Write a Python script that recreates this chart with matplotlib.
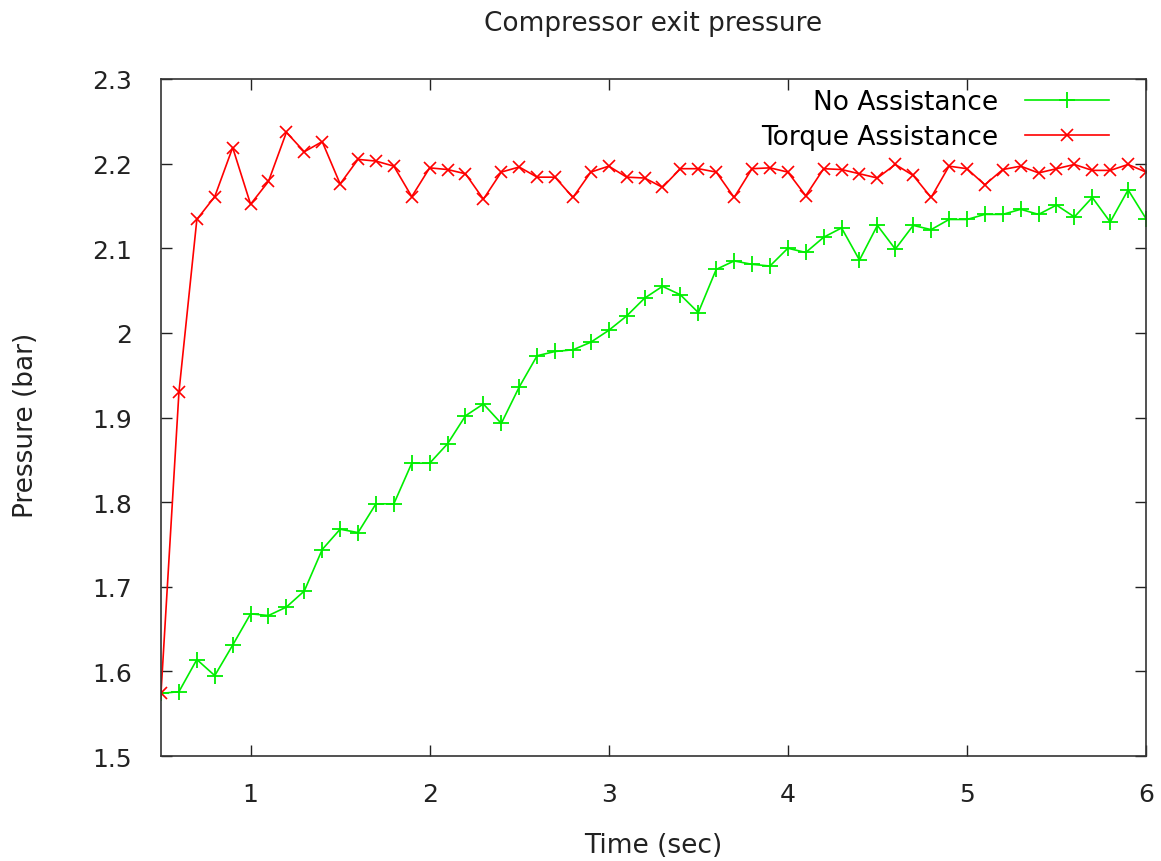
import matplotlib
matplotlib.use("Agg")
import matplotlib.pyplot as plt
import numpy as np
from matplotlib.ticker import FormatStrFormatter

# time axis, one sample every 0.1 s from 0.5 to 6.0
time = np.round(np.arange(0.5, 6.0001, 0.1), 1)

no_assist = [1.574, 1.576, 1.614, 1.595, 1.631, 1.668, 1.666, 1.676, 1.695, 1.744,
             1.768, 1.764, 1.798, 1.798, 1.846, 1.846, 1.869, 1.902, 1.916, 1.893,
             1.936, 1.973, 1.978, 1.980, 1.989, 2.003, 2.020, 2.041, 2.055, 2.045,
             2.024, 2.075, 2.085, 2.081, 2.079, 2.100, 2.095, 2.113, 2.124, 2.086,
             2.127, 2.099, 2.127, 2.122, 2.134, 2.134, 2.140, 2.140, 2.146, 2.140,
             2.151, 2.137, 2.160, 2.131, 2.169, 2.135]

torque_assist = [1.575, 1.930, 2.134, 2.161, 2.219, 2.152, 2.179, 2.237, 2.214, 2.226,
                 2.176, 2.205, 2.203, 2.197, 2.161, 2.195, 2.193, 2.188, 2.158, 2.190,
                 2.196, 2.184, 2.184, 2.160, 2.190, 2.197, 2.184, 2.183, 2.172, 2.194,
                 2.194, 2.190, 2.160, 2.194, 2.195, 2.190, 2.162, 2.194, 2.193, 2.188,
                 2.183, 2.199, 2.186, 2.160, 2.197, 2.194, 2.175, 2.193, 2.197, 2.189,
                 2.194, 2.199, 2.192, 2.192, 2.199, 2.190]

x_ticks = [1, 2, 3, 4, 5, 6]
y_ticks = [1.5, 1.6, 1.7, 1.8, 1.9, 2.0, 2.1, 2.2, 2.3]

plt.rcParams['font.family'] = ['DejaVu Sans']
txt = "#222222"

fig = plt.figure(figsize=(11.61, 8.62), dpi=100, facecolor="white")
ax = fig.add_axes((0.1387, 0.1218, 0.8484, 0.7854))

ax.plot(time, no_assist, color="#00ee00", marker="+", markersize=12,
        markeredgewidth=1.3, linewidth=1.2, label="No Assistance")
ax.plot(time, torque_assist, color="#ff0000", marker="x", markersize=9,
        markeredgewidth=1.2, linewidth=1.2, label="Torque Assistance")

ax.set_xlim(0.5, 6)
ax.set_ylim(1.5, 2.3)
ax.set_xticks(x_ticks)
ax.set_yticks(y_ticks)
ax.yaxis.set_major_formatter(FormatStrFormatter("%g"))
ax.tick_params(direction="in", length=8, width=1, top=True, right=True,
               labelsize=18, colors=txt)
ax.tick_params(axis="y", pad=21)
ax.tick_params(axis="x", pad=19)
for s in ax.spines.values():
    s.set_linewidth(1.2)
    s.set_color("#333333")

ax.set_title("Compressor exit pressure", fontsize=19, pad=35, color=txt)
ax.set_xlabel("Time (sec)", fontsize=19, color=txt)
ax.set_ylabel("Pressure (bar)", fontsize=19, color=txt)
ax.xaxis.set_label_coords(0.5, -0.112)
ax.yaxis.set_label_coords(-0.124, 0.49)

ax.legend(loc="upper right", frameon=False, markerfirst=False, fontsize=19,
          handlelength=3.2, handletextpad=1.0, labelspacing=0.33,
          borderpad=0, borderaxespad=0, bbox_to_anchor=(0.9625, 0.985))

fig.savefig("out.png", dpi=100, facecolor="white")
